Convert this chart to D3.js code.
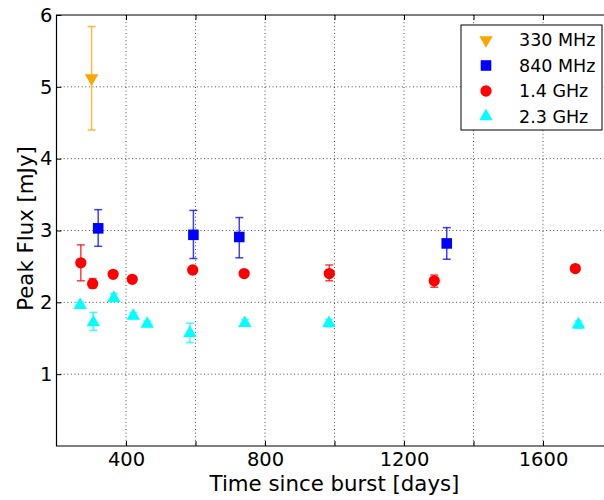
<!DOCTYPE html>
<html><head><meta charset="utf-8">
<script src="https://cdn.jsdelivr.net/npm/d3@7"></script>
<style>body{margin:0;background:#fff}svg{display:block;font-family:"DejaVu Sans",sans-serif}</style>
</head><body>
<svg id="c" width="604" height="500"></svg>
<script>
// ---- data ----
const seriesNames = ["330 MHz", "840 MHz", "1.4 GHz", "2.3 GHz"];
const t330 = [301];
const f330 = [5.12];
const lo330 = [4.40];
const hi330 = [5.84];

const t840 = [320, 594, 726, 1323];
const f840 = [3.03, 2.94, 2.91, 2.82];
const lo840 = [2.78, 2.61, 2.62, 2.60];
const hi840 = [3.29, 3.28, 3.18, 3.04];

const t14 = [270, 304, 363, 418, 592, 740, 985, 1287, 1693];
const f14 = [2.55, 2.26, 2.39, 2.32, 2.45, 2.40, 2.40, 2.30, 2.47];
const lo14 = [2.30, 2.20, 2.36, 2.29, 2.42, 2.37, 2.30, 2.21, 2.44];
const hi14 = [2.80, 2.33, 2.42, 2.35, 2.48, 2.43, 2.52, 2.38, 2.50];

const t23 = [268, 306, 365, 421, 461, 584, 742, 984, 1702];
const f23 = [1.96, 1.72, 2.06, 1.81, 1.70, 1.57, 1.71, 1.71, 1.69];
const lo23 = [1.92, 1.61, 2.01, 1.77, 1.66, 1.44, 1.67, 1.66, 1.64];
const hi23 = [2.00, 1.86, 2.12, 1.86, 1.74, 1.71, 1.76, 1.76, 1.74];

const xTickLabels = [400, 800, 1200, 1600];
const xGrid = [400, 600, 800, 1000, 1200, 1400, 1600];
const yTickLabels = [1, 2, 3, 4, 5, 6];
const yGrid = [1, 2, 3, 4, 5];

// ---- layout ----
const L = 56.5, T = 15, B = 446, R = 612.5;
const x = d3.scaleLinear().domain([200, 1800]).range([L, R]);
const y = d3.scaleLinear().domain([0, 6]).range([B, T]);
const svg = d3.select("#c");

const series = [
  {name: seriesNames[0], t: t330, f: f330, lo: lo330, hi: hi330, color: "#FFA500", sym: d3.symbolTriangle, rot: 180, size: 78},
  {name: seriesNames[1], t: t840, f: f840, lo: lo840, hi: hi840, color: "#0000FF", sym: d3.symbolSquare, rot: 0, size: 112},
  {name: seriesNames[2], t: t14, f: f14, lo: lo14, hi: hi14, color: "#FF0000", sym: d3.symbolCircle, rot: 0, size: 100},
  {name: seriesNames[3], t: t23, f: f23, lo: lo23, hi: hi23, color: "#00FFFF", sym: d3.symbolTriangle, rot: 0, size: 78}
];

// grid
const g = svg.append("g");
g.selectAll(".gx").data(xGrid).enter().append("line")
  .attr("x1", d => x(d)).attr("x2", d => x(d)).attr("y1", T).attr("y2", B)
  .attr("stroke", "#000").attr("stroke-width", 0.7).attr("stroke-dasharray", "1,2.6");
g.selectAll(".gy").data(yGrid).enter().append("line")
  .attr("x1", L).attr("x2", R).attr("y1", d => y(d)).attr("y2", d => y(d))
  .attr("stroke", "#000").attr("stroke-width", 0.7).attr("stroke-dasharray", "1,2.6");

// axes (ticks inward)
const xAxisB = d3.axisBottom(x).tickValues(xGrid).tickSize(-5).tickPadding(6.5)
  .tickFormat(d => xTickLabels.includes(d) ? d : "");
const xAxisT = d3.axisTop(x).tickValues(xGrid).tickSize(-5).tickFormat("");
const yAxisL = d3.axisLeft(y).tickValues(yTickLabels).tickSize(-5).tickPadding(4).tickFormat(d3.format("d"));
function style(sel){
  sel.select(".domain").remove();
  sel.selectAll("line").attr("stroke", "#000").attr("stroke-width", 1);
  sel.selectAll("text").attr("fill", "#000").style("font-size", "19.5px").style("font-family", "DejaVu Sans");
}
svg.append("g").attr("transform", `translate(0,${B})`).call(xAxisB).call(style);
svg.append("g").attr("transform", `translate(0,${T})`).call(xAxisT).call(style);
svg.append("g").attr("transform", `translate(${L},0)`).call(yAxisL).call(style);

// frame
svg.append("path").attr("d", `M${R},${T}H${L}V${B}H${R}`).attr("fill", "none").attr("stroke", "#000").attr("stroke-width", 1.2);

// error bars and markers
series.forEach(s => {
  const gs = svg.append("g");
  s.t.forEach((t, i) => {
    const cx = x(t);
    gs.append("line").attr("x1", cx).attr("x2", cx).attr("y1", y(s.lo[i])).attr("y2", y(s.hi[i]))
      .attr("stroke", s.color).attr("stroke-width", 1.5).attr("opacity", 0.75);
    [s.lo[i], s.hi[i]].forEach(v => {
      gs.append("line").attr("x1", cx - 4).attr("x2", cx + 4).attr("y1", y(v)).attr("y2", y(v))
        .attr("stroke", s.color).attr("stroke-width", 1.5).attr("opacity", 0.75);
    });
  });
  gs.selectAll("path.m").data(s.t.map((t, i) => [t, s.f[i]])).enter().append("path")
    .attr("d", d3.symbol().type(s.sym).size(s.size))
    .attr("transform", d => `translate(${x(d[0])},${y(d[1])}) rotate(${s.rot})`)
    .attr("fill", s.color);
});

// axis labels
svg.append("text").attr("x", 334.5).attr("y", 491).attr("text-anchor", "middle")
  .style("font-size", "21.3px").text("Time since burst [days]");
svg.append("text").attr("transform", `translate(32.5,228.5) rotate(-90)`).attr("text-anchor", "middle")
  .style("font-size", "21.3px").text("Peak Flux [mJy]");

// legend
const lg = svg.append("g");
lg.append("rect").attr("x", 461).attr("y", 25).attr("width", 141).attr("height", 105)
  .attr("fill", "#fff").attr("stroke", "#000").attr("stroke-width", 1);
series.forEach((s, i) => {
  const ly = 40 + i * 25.5;
  lg.append("path").attr("d", d3.symbol().type(s.sym).size(s.size))
    .attr("transform", `translate(486,${ly}) rotate(${s.rot})`).attr("fill", s.color);
  lg.append("text").attr("x", 519).attr("y", ly).attr("dy", "0.36em").style("font-size", "17.5px").text(s.name);
});
</script>
</body></html>
